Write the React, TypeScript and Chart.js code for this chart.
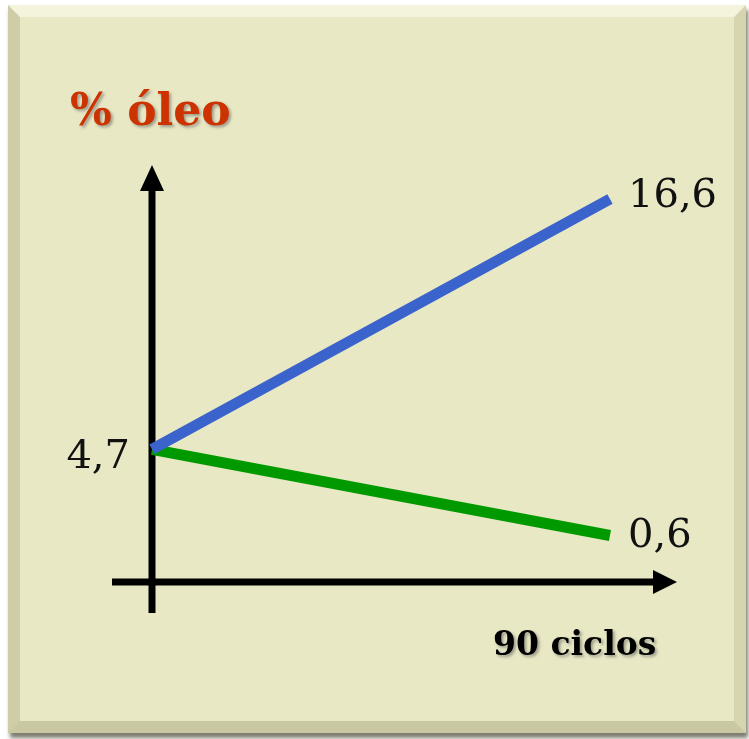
import React, { useEffect, useRef } from "react";
import { Chart, registerables } from "chart.js";

Chart.register(...registerables);

const cycles = [0, 90];
const riseSeries = [4.7, 16.6];
const fallSeries = [4.7, 0.6];
const startLabel = "4,7";
const riseLabel = "16,6";
const fallLabel = "0,6";
const yTitle = "% óleo";
const xTitle = "90 ciclos";

const Y_MIN = -1.61;
const Y_MAX = 16.6;

const annotate = {
  id: "annotate",
  beforeDatasetsDraw(chart: any) {
    const { ctx, scales } = chart;
    const xs = scales.x;
    const ys = scales.y;
    const x0 = xs.getPixelForValue(cycles[0]);
    const yAxis = ys.getPixelForValue(Y_MIN);
    ctx.save();
    ctx.fillStyle = "#000";
    ctx.strokeStyle = "#000";
    ctx.lineWidth = 7;
    ctx.lineCap = "butt";
    // vertical axis
    ctx.beginPath();
    ctx.moveTo(x0, yAxis + 31);
    ctx.lineTo(x0, 188);
    ctx.stroke();
    ctx.beginPath();
    ctx.moveTo(x0, 165);
    ctx.lineTo(x0 - 12, 191);
    ctx.lineTo(x0 + 12, 191);
    ctx.closePath();
    ctx.fill();
    // horizontal axis
    ctx.beginPath();
    ctx.moveTo(x0 - 40, yAxis);
    ctx.lineTo(655, yAxis);
    ctx.stroke();
    ctx.beginPath();
    ctx.moveTo(677, yAxis);
    ctx.lineTo(653, yAxis - 12);
    ctx.lineTo(653, yAxis + 12);
    ctx.closePath();
    ctx.fill();
    ctx.restore();
  },
  afterDatasetsDraw(chart: any) {
    const { ctx, scales } = chart;
    const xs = scales.x;
    const ys = scales.y;
    const x0 = xs.getPixelForValue(cycles[0]);
    const x1 = xs.getPixelForValue(cycles[1]);
    ctx.save();
    // value labels
    ctx.font = "40px 'DejaVu Serif'";
    ctx.fillStyle = "#111";
    ctx.textBaseline = "alphabetic";
    ctx.textAlign = "left";
    ctx.fillText(riseLabel, x1 + 18, ys.getPixelForValue(riseSeries[1]) + 8);
    ctx.fillText(fallLabel, x1 + 18, ys.getPixelForValue(fallSeries[1]) + 11);
    ctx.textAlign = "right";
    ctx.fillText(startLabel, x0 - 22, ys.getPixelForValue(riseSeries[0]) + 19);

    // titles with shadow
    ctx.shadowColor = "rgba(90,90,90,0.55)";
    ctx.shadowOffsetX = 2;
    ctx.shadowOffsetY = 2;
    ctx.shadowBlur = 3;
    ctx.textAlign = "left";
    ctx.font = "bold 44px 'DejaVu Serif'";
    ctx.fillStyle = "#CC3300";
    ctx.fillText(yTitle, 70, 125);
    ctx.font = "bold 33px 'DejaVu Serif'";
    ctx.fillStyle = "#000";
    ctx.fillText(xTitle, 493, 655);
    ctx.restore();
  },
};

export default function App() {
  const ref = useRef<HTMLCanvasElement | null>(null);
  useEffect(() => {
    if (!ref.current) return;
    const chart = new Chart(ref.current, {
      type: "line",
      data: {
        datasets: [
          {
            data: cycles.map((c, i) => ({ x: c, y: riseSeries[i] })),
            borderColor: "#3A64CC",
            borderWidth: 11,
            borderCapStyle: "butt",
            pointRadius: 0,
            clip: false,
          } as any,
          {
            data: cycles.map((c, i) => ({ x: c, y: fallSeries[i] })),
            borderColor: "#009A00",
            borderWidth: 11,
            borderCapStyle: "butt",
            pointRadius: 0,
            clip: false,
          } as any,
        ],
      },
      options: {
        animation: false,
        responsive: false,
        layout: { padding: { left: 152, right: 139, top: 199, bottom: 157 } },
        plugins: { legend: { display: false }, tooltip: { enabled: false } },
        scales: {
          x: { type: "linear", min: cycles[0], max: cycles[1], display: false },
          y: { type: "linear", min: Y_MIN, max: Y_MAX, display: false },
        },
      },
      plugins: [annotate],
    });
    return () => chart.destroy();
  }, []);
  return (
    <div style={{ position: "absolute", left: 0, top: 0, width: 749, height: 739, background: "#fff" }}>
      <div
        style={{
          position: "absolute",
          left: 8,
          top: 5,
          width: 738,
          height: 728,
          boxSizing: "border-box",
          background: "#E9E8C5",
          borderStyle: "solid",
          borderWidth: 12,
          borderTopColor: "#F4F3DC",
          borderLeftColor: "#CFCDA8",
          borderRightColor: "#D6D5B0",
          borderBottomColor: "#C9C8A2",
          boxShadow: "2px 5px 4px rgba(70,70,50,0.7)",
        }}
      />
      <canvas ref={ref} width={749} height={739} style={{ position: "absolute", left: 0, top: 0 }} />
    </div>
  );
}
